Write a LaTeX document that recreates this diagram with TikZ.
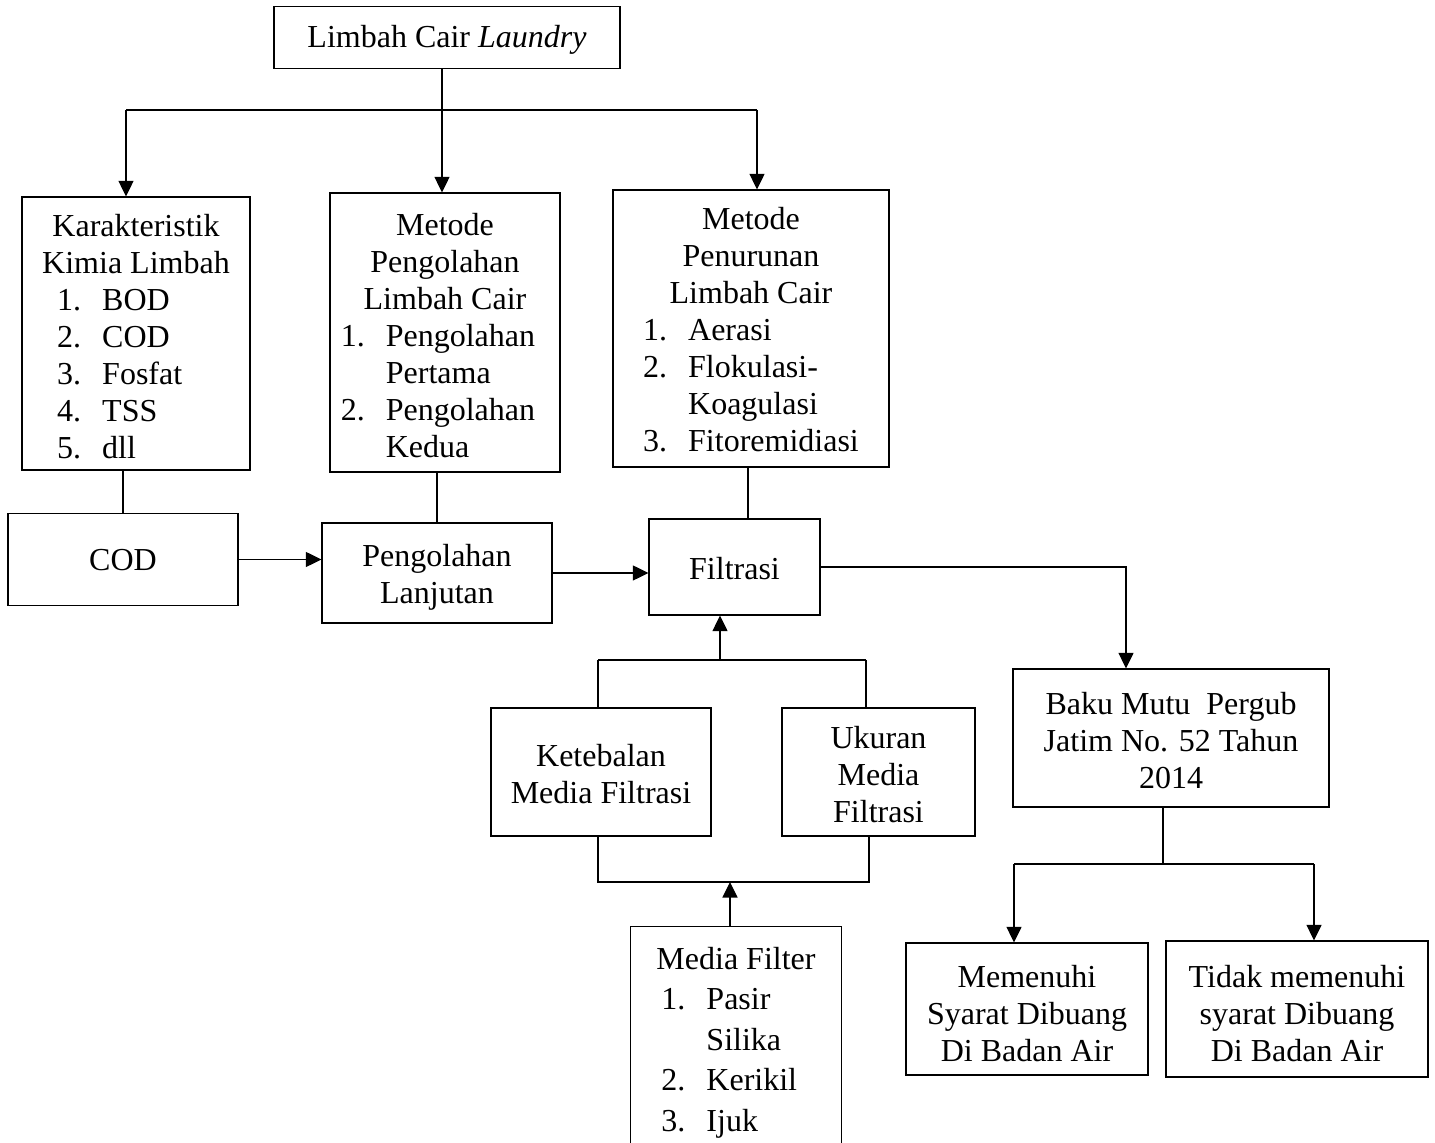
\documentclass[tikz,border=0pt]{standalone}
\usepackage{fontspec}
\setmainfont{Liberation Serif}
\usetikzlibrary{arrows.meta}
\newcommand\li[1]{\makebox[22.5pt][l]{#1}}
\newcommand\hd[1]{\multicolumn{1}{@{}c@{}}{#1}}
\newcommand\Sh[2]{\raisebox{-#1}[\height][\depth]{#2}}
\newcommand\Tc[2]{\raisebox{-#1}[\height][\depth]{\begin{tabular}{@{}c@{}}#2\end{tabular}}}
\newcommand\Tl[2]{\raisebox{-#1}[\height][\depth]{\begin{tabular}{@{}l@{}}#2\end{tabular}}}
\begin{document}
\begin{tikzpicture}[x=0.5pt,y=-0.5pt,
 every node/.style={font=\fontsize{16}{18.5}\selectfont, inner sep=0pt},
 bx/.style n args={2}{draw, line width=0.6pt, minimum width=#1*0.5pt, minimum height=#2*0.5pt, align=center},
 ln/.style={line width=0.6pt},
 arr/.style={line width=0.6pt, -{Triangle[length=7.75pt,width=7.5pt]}}]
\useasboundingbox (0,0) rectangle (1435,1143);

\node[bx={346}{62}] (top) at (447,37.5) {\Sh{1.25pt}{Limbah Cair \textit{Laundry}}};

\node[bx={228}{273}] (kar) at (136,333.5) {\Tl{3.5pt}{
\hd{Karakteristik}\\
\hd{Kimia Limbah}\\
\hspace*{7.5pt}\li{1.}BOD\\
\hspace*{7.5pt}\li{2.}COD\\
\hspace*{7.5pt}\li{3.}Fosfat\\
\hspace*{7.5pt}\li{4.}TSS\\
\hspace*{7.5pt}\li{5.}dll}};

\node[bx={230}{279}] (mpo) at (445,332.5) {\Tl{3.5pt}{
\hd{Metode}\\
\hd{Pengolahan}\\
\hd{Limbah Cair}\\
\li{1.}Pengolahan\hspace*{7pt}\\
\li{}Pertama\\
\li{2.}Pengolahan\\
\li{}Kedua}};

\node[bx={276}{277}] (mpe) at (751,328.5) {\Tl{2.5pt}{
\hd{Metode}\\
\hd{Penurunan}\\
\hd{Limbah Cair}\\
\li{1.}Aerasi\\
\li{2.}Flokulasi-\\
\li{}Koagulasi\\
\li{3.}Fitoremidiasi}};

\node[bx={230}{92}] (cod) at (123,559.5) {\Sh{0.5pt}{COD}};
\node[bx={230}{100}] (pl) at (437,573) {\Tc{2.5pt}{Pengolahan\\Lanjutan}};
\node[bx={171}{96}] (fil) at (734.5,567) {\Sh{1pt}{Filtrasi}};
\node[bx={316}{138}] (baku) at (1171,738) {\Tc{3.3pt}{Baku Mutu~ Pergub\\Jatim No. 52 Tahun\\2014}};
\node[bx={242}{132}] (mem) at (1027,1009) {\Tc{3.8pt}{Memenuhi\\Syarat Dibuang\\Di Badan Air}};
\node[bx={262}{136}] (tid) at (1297,1009) {\Tc{3.8pt}{Tidak memenuhi\\syarat Dibuang\\Di Badan Air}};
\node[bx={220}{128}] (keb) at (601,772) {\Tc{2.8pt}{Ketebalan\\Media Filtrasi}};
\node[bx={193}{128}] (uku) at (878.5,772) {\Tc{3pt}{Ukuran\\Media\\Filtrasi}};

\node[minimum width=105pt, minimum height=108pt] (mf) at (736,1035) {\renewcommand\arraystretch{1.095}\Tl{3.5pt}{
\hd{Media Filter}\\
\hspace*{2.5pt}\li{1.}Pasir\\
\hspace*{2.5pt}\li{}Silika\\
\hspace*{2.5pt}\li{2.}Kerikil\\
\hspace*{2.5pt}\li{3.}Ijuk}};
\draw[ln] (mf.south west) -- (mf.north west) -- (mf.north east) -- (mf.south east);

% top distribution
\coordinate (hl) at (126,110);
\coordinate (hr) at (757,110);
\coordinate (hm) at (442,110);
\draw[arr] (top.south -| hm) -- (mpo.north -| hm);
\draw[ln] (hl) -- (hr);
\draw[arr] (hl) -- (kar.north -| hl);
\draw[arr] (hr) -- (mpe.north -| hr);

% middle row
\draw[ln] (kar.south -| cod.north) -- (cod.north);
\draw[arr] (cod.east) -- (cod.east -| pl.west);
\draw[ln] (mpo.south -| pl.north) -- (pl.north);
\draw[arr] (pl.east) -- (pl.east -| fil.west);
\coordinate (fx) at (748,500);
\draw[ln] (mpe.south -| fx) -- (fil.north -| fx);
\coordinate (cb) at (1126,567);
\draw[arr] (fil.east) -- (cb) -- (cb |- baku.north);

% baku branches
\coordinate (bj) at (1163,864);
\coordinate (bl) at (1014,864);
\coordinate (br) at (1314,864);
\draw[ln] (baku.south -| bj) -- (bj);
\draw[ln] (bl) -- (br);
\draw[arr] (bl) -- (mem.north -| bl);
\draw[arr] (br) -- (tid.north -| br);

% filter parameters
\coordinate (ul) at (598,660);
\coordinate (ur) at (866,660);
\coordinate (um) at (720,660);
\draw[ln] (ul) -- (ur);
\draw[arr] (um) -- (fil.south -| um);
\draw[ln] (ul) -- (keb.north -| ul);
\draw[ln] (ur) -- (uku.north -| ur);
\coordinate (ll) at (598,882);
\coordinate (lr) at (869,882);
\coordinate (lm) at (730,882);
\draw[ln] (keb.south -| ll) -- (ll) -- (lr) -- (uku.south -| lr);
\draw[arr] (mf.north -| lm) -- (lm);
\end{tikzpicture}
\end{document}
